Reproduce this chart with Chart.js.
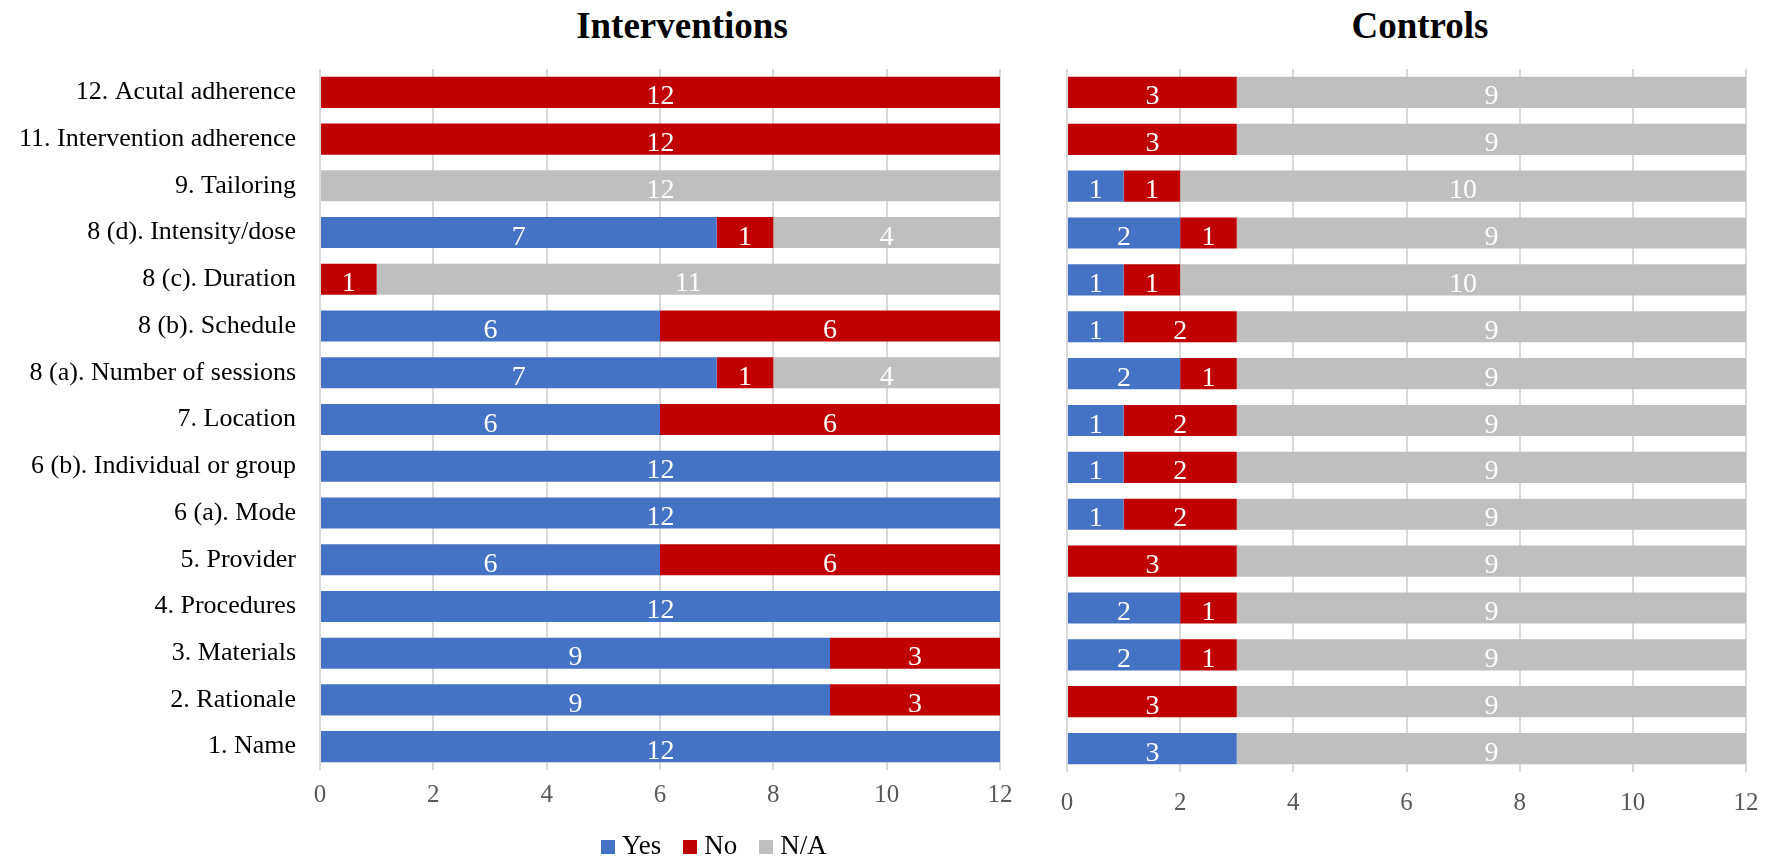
<!DOCTYPE html>
<html>
<head>
<meta charset="utf-8">
<script src="https://cdn.jsdelivr.net/npm/chart.js@4.4.1/dist/chart.umd.min.js"></script>
<style>
  html, body { margin: 0; padding: 0; background: #ffffff; overflow: hidden; }
  body { position: relative; width: 1771px; height: 859px;
         font-family: "Liberation Serif", "Times New Roman", serif; }
  canvas { position: absolute; top: 0; }
  #cvLeft { left: 0; }
  #cvRight { left: 1030px; }
  .panel-title { position: absolute; top: 7px; width: 400px; text-align: center;
                 font-size: 37px; line-height: 37px; font-weight: bold; color: #000; }
  #legend { position: absolute; left: 601px; top: 832px; font-size: 27px; line-height: 27px;
            color: #000; white-space: nowrap; }
  #legend .item { display: inline-block; margin-right: 22px; }
  #legend .swatch { display: inline-block; width: 14px; height: 14px; margin-right: 7px;
                    vertical-align: baseline; }
</style>
</head>
<body>
<div class="panel-title" style="left:482px">Interventions</div>
<div class="panel-title" style="left:1220px">Controls</div>
<canvas id="cvLeft" width="1030" height="859"></canvas>
<canvas id="cvRight" width="760" height="859"></canvas>
<div id="legend"></div>

<script>
// Reporting items, listed top to bottom
const categories = [
  "12. Acutal adherence",
  "11. Intervention adherence",
  "9. Tailoring",
  "8 (d). Intensity/dose",
  "8 (c). Duration",
  "8 (b). Schedule",
  "8 (a). Number of sessions",
  "7. Location",
  "6 (b). Individual or group",
  "6 (a). Mode",
  "5. Provider",
  "4. Procedures",
  "3. Materials",
  "2. Rationale",
  "1. Name"
];

// Interventions: number of studies per answer
const interventionYes = [0, 0, 0, 7, 0, 6, 7, 6, 12, 12, 6, 12, 9, 9, 12];
const interventionNo  = [12, 12, 0, 1, 1, 6, 1, 6, 0, 0, 6, 0, 3, 3, 0];
const interventionNA  = [0, 0, 12, 4, 11, 0, 4, 0, 0, 0, 0, 0, 0, 0, 0];

// Controls: number of studies per answer
const controlYes = [0, 0, 1, 2, 1, 1, 2, 1, 1, 1, 0, 2, 2, 0, 3];
const controlNo  = [3, 3, 1, 1, 1, 2, 1, 2, 2, 2, 3, 1, 1, 3, 0];
const controlNA  = [9, 9, 10, 9, 10, 9, 9, 9, 9, 9, 9, 9, 9, 9, 9];

const seriesNames = ["Yes", "No", "N/A"];
const seriesColors = ["#4472C4", "#C00000", "#BFBFBF"];
const axisMax = 12;
const axisStep = 2;

const FONT = '"Liberation Serif", "Times New Roman", serif';
const GRID = "#D9D9D9";

// Writes each non-zero segment's count in the middle of its bar
const segmentLabels = {
  id: "segmentLabels",
  afterDatasetsDraw(chart) {
    const ctx = chart.ctx;
    ctx.save();
    ctx.fillStyle = "#ffffff";
    ctx.font = "28px " + FONT;
    ctx.textAlign = "center";
    ctx.textBaseline = "alphabetic";
    chart.data.datasets.forEach((ds, di) => {
      const meta = chart.getDatasetMeta(di);
      meta.data.forEach((bar, i) => {
        const v = ds.data[i];
        if (!v) return;
        const cx = (bar.x + bar.base) / 2;
        ctx.fillText(String(v), cx, bar.y + 12);
      });
    });
    ctx.restore();
  }
};

function buildChart(canvasId, values, opts) {
  return new Chart(document.getElementById(canvasId), {
    type: "bar",
    data: {
      labels: categories,
      datasets: values.map((arr, k) => ({
        label: seriesNames[k],
        data: arr,
        backgroundColor: seriesColors[k],
        borderWidth: 0,
        barPercentage: 0.665,
        categoryPercentage: 1
      }))
    },
    options: {
      indexAxis: "y",
      responsive: false,
      animation: false,
      layout: { padding: { top: 69, right: opts.padRight, bottom: 0, left: 0 } },
      plugins: { legend: { display: false }, title: { display: false }, tooltip: { enabled: false } },
      scales: {
        x: {
          stacked: true,
          min: 0,
          max: axisMax,
          ticks: { stepSize: axisStep, color: "#595959", font: { family: FONT, size: 25 },
                   padding: opts.tickPad, maxRotation: 0 },
          grid: { color: GRID, lineWidth: 2, drawTicks: false },
          border: { display: false },
          afterFit(scale) { scale.height = opts.xHeight; }
        },
        y: {
          stacked: true,
          ticks: { display: opts.showLabels, color: "#000000", font: { family: FONT, size: 26 },
                   padding: 24 },
          grid: { display: false, drawTicks: false },
          border: { display: false },
          afterFit(scale) { scale.width = opts.yWidth; }
        }
      }
    },
    plugins: [segmentLabels]
  });
}

buildChart("cvLeft", [interventionYes, interventionNo, interventionNA],
  { padRight: 30, xHeight: 89, yWidth: 320, showLabels: true, tickPad: 10 });
buildChart("cvRight", [controlYes, controlNo, controlNA],
  { padRight: 44, xHeight: 87, yWidth: 37, showLabels: false, tickPad: 16 });

// Shared legend under the panels
const legend = document.getElementById("legend");
seriesNames.forEach((name, k) => {
  const item = document.createElement("span");
  item.className = "item";
  const sw = document.createElement("span");
  sw.className = "swatch";
  sw.style.background = seriesColors[k];
  item.appendChild(sw);
  item.appendChild(document.createTextNode(name));
  legend.appendChild(item);
});
</script>
</body>
</html>
